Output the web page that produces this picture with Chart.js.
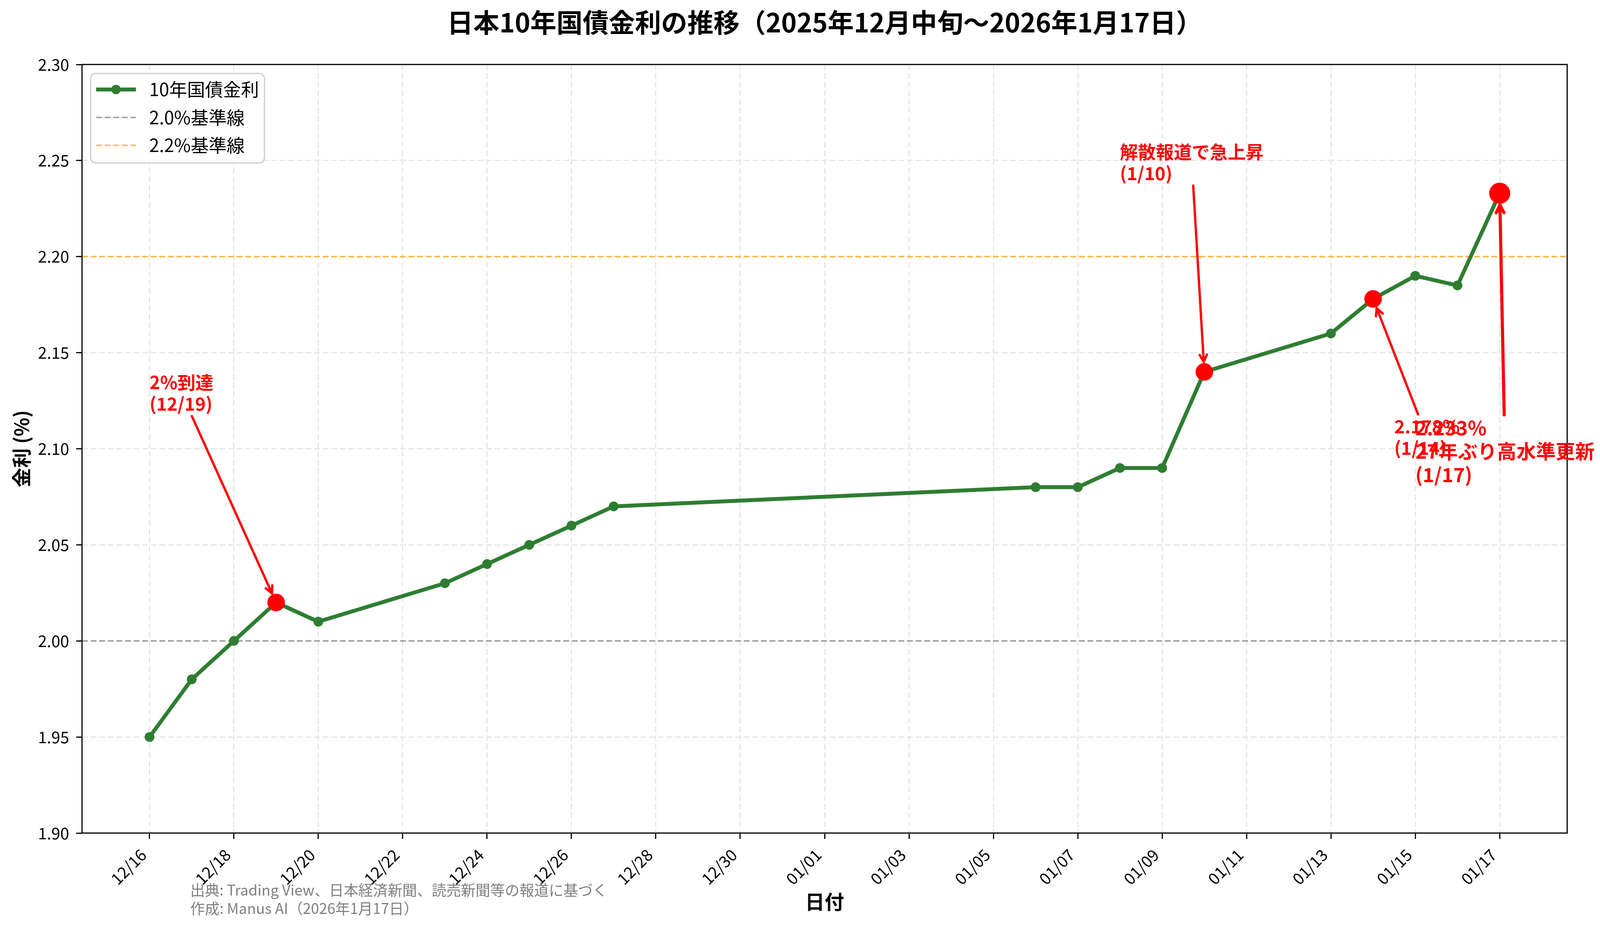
<!DOCTYPE html>
<html>
<head>
<meta charset="utf-8">
<script src="https://cdn.jsdelivr.net/npm/chart.js@4.4.1/dist/chart.umd.min.js"></script>
<style>
  html, body { margin: 0; padding: 0; background: #fff; }
  canvas { display: block; }
</style>
</head>
<body>
<canvas id="yieldChart" width="4112" height="2375" style="width:4112px;height:2375px"></canvas>
<script>
// --- data ---
const dates = [
  '2025-12-16', '2025-12-17', '2025-12-18', '2025-12-19', '2025-12-20',
  '2025-12-23', '2025-12-24', '2025-12-25', '2025-12-26', '2025-12-27',
  '2026-01-06', '2026-01-07', '2026-01-08', '2026-01-09', '2026-01-10',
  '2026-01-13', '2026-01-14', '2026-01-15', '2026-01-16', '2026-01-17'
];
const yields = [
  1.95, 1.98, 2.00, 2.02, 2.01,
  2.03, 2.04, 2.05, 2.06, 2.07,
  2.08, 2.08, 2.09, 2.09, 2.14,
  2.16, 2.178, 2.19, 2.185, 2.233
];
const highlightDates = ['2025-12-19', '2026-01-10', '2026-01-14', '2026-01-17'];
const tickDates = [
  '2025-12-16', '2025-12-18', '2025-12-20', '2025-12-22', '2025-12-24',
  '2025-12-26', '2025-12-28', '2025-12-30', '2026-01-01', '2026-01-03',
  '2026-01-05', '2026-01-07', '2026-01-09', '2026-01-11', '2026-01-13',
  '2026-01-15', '2026-01-17'
];
const refLevels = [2.0, 2.2];
const refLabels = ['2.0%基準線', '2.2%基準線'];
const seriesLabel = '10年国債金利';
const titleText = '日本10年国債金利の推移（2025年12月中旬〜2026年1月17日）';
const sourceLines = [
  '出典: Trading View、日本経済新聞、読売新聞等の報道に基づく',
  '作成: Manus AI（2026年1月17日）'
];

// text anchor = left edge / first-line baseline, in data coordinates
const notes = [
  { date: '2025-12-19', lines: ['2%到達', '(12/19)'], textAt: '2025-12-16', textValue: 2.131, size: 46, lw: 6 },
  { date: '2026-01-10', lines: ['解散報道で急上昇', '(1/10)'], textAt: '2026-01-08', textValue: 2.251, size: 46, lw: 6 },
  { date: '2026-01-14', lines: ['2.178%', '(1/14)'], textAt: '2026-01-14T12:00', textValue: 2.108, size: 46, lw: 6 },
  { date: '2026-01-17', lines: ['2.233%', '27年ぶり高水準更新', '(1/17)'], textAt: '2026-01-15', textValue: 2.107, size: 50, lw: 8 }
];

const FONT = '"Noto Sans CJK JP", "Noto Sans", sans-serif';
const RED = '#ff0000';
const GREEN = '#2e7d32';

const DAY = 86400000;
const origin = Date.parse(dates[0] + 'T00:00:00Z');
const toDay = d => (Date.parse(d.length > 10 ? d + 'Z' : d + 'T00:00:00Z') - origin) / DAY;
const fmtTick = d => d.slice(5, 7) + '/' + d.slice(8, 10);

const firstDay = toDay(dates[0]);
const lastDay = toDay(dates[dates.length - 1]);
const margin = (lastDay - firstDay) * 0.05;
const xMin = firstDay - margin;
const xMax = lastDay + margin;

const seriesPoints = dates.map((d, i) => ({ x: toDay(d), y: yields[i] }));
const highlightPoints = highlightDates.map(d => ({ x: toDay(d), y: yields[dates.indexOf(d)] }));
const highlightRadius = highlightDates.map((d, i) => i === highlightDates.length - 1 ? 27 : 22.5);
const tickLabelMap = new Map(tickDates.map(d => [toDay(d), fmtTick(d)]));

Chart.defaults.font.family = FONT;
Chart.defaults.color = '#000';

function drawNote(ctx, xs, ys, n) {
  const idx = highlightDates.indexOf(n.date);
  const radius = idx >= 0 ? highlightRadius[idx] : 12;
  const px = xs.getPixelForValue(toDay(n.date));
  const py = ys.getPixelForValue(yields[dates.indexOf(n.date)]);
  const tx = xs.getPixelForValue(toDay(n.textAt));
  const firstBase = ys.getPixelForValue(n.textValue);
  const lh = n.size * 1.2;

  ctx.font = `bold ${n.size}px ${FONT}`;
  const w = Math.max(...n.lines.map(s => ctx.measureText(s).width));
  const lastBase = firstBase + (n.lines.length - 1) * lh;
  const pad = 8.3;
  const box = {
    l: tx - pad, r: tx + w + pad,
    t: firstBase - 0.88 * n.size - pad, b: lastBase + 0.12 * n.size + pad
  };
  const cx = (box.l + box.r) / 2, cy = (box.t + box.b) / 2;
  const dx = px - cx, dy = py - cy;
  let t = Infinity;
  if (dx) t = Math.min(t, ((dx > 0 ? box.r : box.l) - cx) / dx);
  if (dy) t = Math.min(t, ((dy > 0 ? box.b : box.t) - cy) / dy);
  const sx = cx + dx * t, sy = cy + dy * t;
  const len = Math.hypot(px - sx, py - sy);
  const ux = (px - sx) / len, uy = (py - sy) / len;
  const ex = px - ux * (radius + 3), ey = py - uy * (radius + 3);

  ctx.strokeStyle = RED;
  ctx.lineWidth = n.lw;
  ctx.lineCap = 'round';
  ctx.lineJoin = 'round';
  ctx.setLineDash([]);
  ctx.beginPath();
  ctx.moveTo(sx, sy);
  ctx.lineTo(ex, ey);
  const hl = n.size * 0.4, hw = n.size * 0.2;
  ctx.moveTo(ex - ux * hl - uy * hw, ey - uy * hl + ux * hw);
  ctx.lineTo(ex, ey);
  ctx.lineTo(ex - ux * hl + uy * hw, ey - uy * hl - ux * hw);
  ctx.stroke();

  ctx.fillStyle = RED;
  ctx.textAlign = 'left';
  ctx.textBaseline = 'alphabetic';
  n.lines.forEach((s, i) => ctx.fillText(s, tx, firstBase + i * lh));
}

const decorations = {
  id: 'decorations',
  afterDatasetsDraw(chart) {
    const { ctx, chartArea: ca, scales } = chart;
    ctx.save();
    ctx.strokeStyle = '#000';
    ctx.lineWidth = 3;
    ctx.setLineDash([]);
    ctx.strokeRect(ca.left, ca.top, ca.right - ca.left, ca.bottom - ca.top);
    notes.forEach(n => drawNote(ctx, scales.x, scales.y, n));
    ctx.restore();
  },
  afterDraw(chart) {
    const { ctx, chartArea: ca } = chart;
    ctx.save();

    // title
    ctx.fillStyle = '#000';
    ctx.font = `bold 67px ${FONT}`;
    ctx.textAlign = 'center';
    ctx.textBaseline = 'middle';
    ctx.fillText(titleText, (ca.left + ca.right) / 2, 58);

    // legend inside the plot, upper left
    const bx = ca.left + 22, by = ca.top + 23, bw = 445, bh = 229;
    ctx.beginPath();
    ctx.roundRect(bx, by, bw, bh, 14);
    ctx.fillStyle = 'rgba(255,255,255,0.8)';
    ctx.fill();
    ctx.strokeStyle = '#cccccc';
    ctx.lineWidth = 3;
    ctx.stroke();
    const items = chart.data.datasets.filter(ds => ds.inLegend);
    ctx.font = `46px ${FONT}`;
    ctx.textAlign = 'left';
    ctx.textBaseline = 'middle';
    items.forEach((ds, i) => {
      const ry = by + 41 + i * 71.5;
      ctx.strokeStyle = ds.borderColor;
      ctx.lineWidth = ds.borderWidth;
      ctx.lineCap = 'butt';
      ctx.setLineDash(ds.borderDash || []);
      ctx.beginPath();
      ctx.moveTo(bx + 14, ry);
      ctx.lineTo(bx + 116, ry);
      ctx.stroke();
      ctx.setLineDash([]);
      if (ds.pointRadius > 0) {
        ctx.fillStyle = ds.pointBackgroundColor;
        ctx.beginPath();
        ctx.arc(bx + 65, ry, ds.pointRadius - 0.5, 0, Math.PI * 2);
        ctx.fill();
      }
      ctx.fillStyle = '#000';
      ctx.fillText(ds.label, bx + 150, ry);
    });

    // source note
    ctx.fillStyle = '#808080';
    ctx.font = `37.5px ${FONT}`;
    ctx.textAlign = 'left';
    ctx.textBaseline = 'middle';
    sourceLines.forEach((s, i) => ctx.fillText(s, 487, 2278 + i * 47));
    ctx.restore();
  }
};

new Chart(document.getElementById('yieldChart'), {
  type: 'line',
  data: {
    datasets: [
      {
        label: 'highlight',
        data: highlightPoints,
        showLine: false,
        pointRadius: highlightRadius,
        pointHoverRadius: highlightRadius,
        pointBackgroundColor: RED,
        pointBorderWidth: 0,
        inLegend: false
      },
      {
        label: seriesLabel,
        data: seriesPoints,
        borderColor: GREEN,
        borderWidth: 10,
        borderJoinStyle: 'round',
        pointRadius: 12.5,
        pointBackgroundColor: GREEN,
        pointBorderWidth: 0,
        tension: 0,
        inLegend: true
      },
      {
        label: refLabels[0],
        data: [{ x: xMin, y: refLevels[0] }, { x: xMax, y: refLevels[0] }],
        borderColor: 'rgba(128,128,128,0.7)',
        borderWidth: 4,
        borderDash: [15, 7],
        pointRadius: 0,
        inLegend: true
      },
      {
        label: refLabels[1],
        data: [{ x: xMin, y: refLevels[1] }, { x: xMax, y: refLevels[1] }],
        borderColor: 'rgba(255,165,0,0.7)',
        borderWidth: 4,
        borderDash: [15, 7],
        pointRadius: 0,
        inLegend: true
      }
    ]
  },
  options: {
    responsive: false,
    animation: false,
    devicePixelRatio: 1,
    layout: { padding: { top: 165, right: 100, left: 0, bottom: 0 } },
    plugins: {
      legend: { display: false },
      title: { display: false },
      tooltip: { enabled: false }
    },
    scales: {
      x: {
        type: 'linear',
        min: xMin,
        max: xMax,
        afterBuildTicks: s => { s.ticks = tickDates.map(d => ({ value: toDay(d) })); },
        afterFit: s => { s.height = 243; },
        ticks: {
          autoSkip: false,
          minRotation: 45,
          maxRotation: 45,
          padding: 16,
          labelOffset: -16,
          font: { size: 41 },
          color: '#000',
          callback: v => tickLabelMap.get(v) ?? ''
        },
        grid: { color: '#e6e6e6', lineWidth: 3, tickColor: '#000', tickWidth: 3, tickLength: 15 },
        border: { display: false, dash: [15, 7] },
        title: {
          display: true,
          text: '日付',
          font: { size: 50, weight: 'bold' },
          padding: { top: 0, bottom: 37 }
        }
      },
      y: {
        min: 1.90,
        max: 2.30,
        afterFit: s => { s.width = 210; },
        ticks: {
          stepSize: 0.05,
          padding: 18,
          font: { size: 41 },
          color: '#000',
          callback: v => v.toFixed(2)
        },
        grid: { color: '#e6e6e6', lineWidth: 3, tickColor: '#000', tickWidth: 3, tickLength: 15 },
        border: { display: false, dash: [15, 7] },
        title: {
          display: true,
          text: '金利 (%)',
          font: { size: 50, weight: 'bold' },
          padding: { top: 25, bottom: 0 }
        }
      }
    }
  },
  plugins: [decorations]
});
</script>
</body>
</html>
